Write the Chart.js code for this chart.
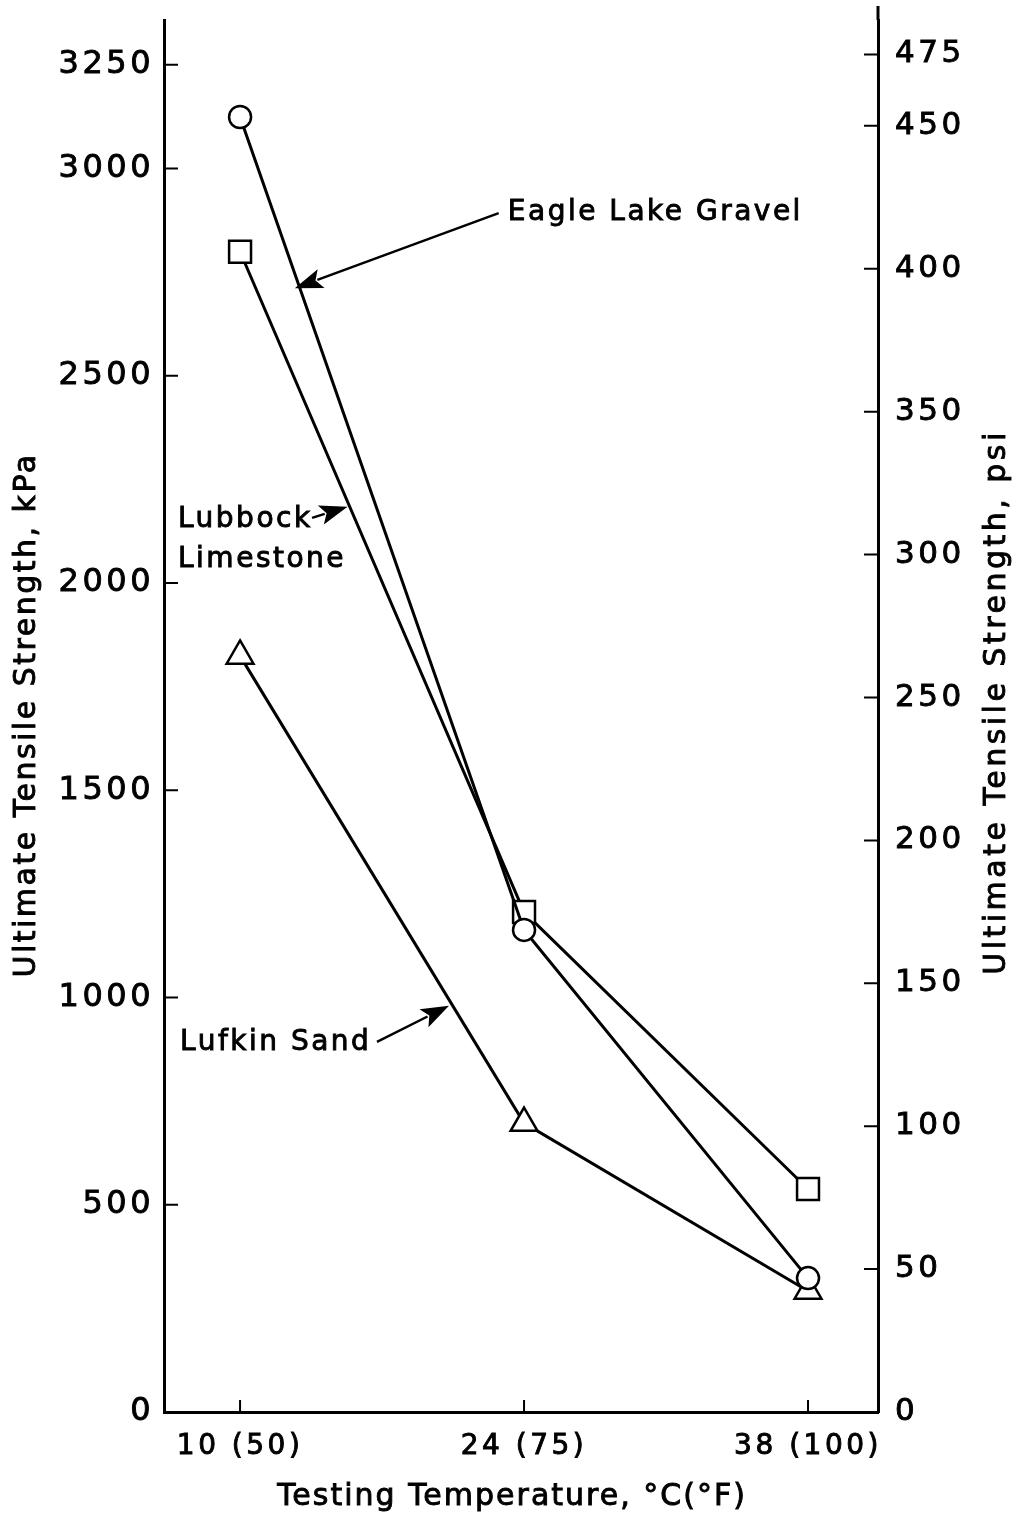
<!DOCTYPE html>
<html><head><meta charset="utf-8">
<script src="https://cdn.jsdelivr.net/npm/chart.js@4/dist/chart.umd.min.js"></script>
<style>html,body{margin:0;padding:0;background:#fff}#wrap{width:1013px;height:1518px;position:relative}</style>
</head><body><div id="wrap"><canvas id="c"></canvas></div>
<script>
// ---- data ----
const temperaturesC = [10, 24, 38];
const temperatureLabels = ['10 (50)', '24 (75)', '38 (100)'];
const eagleLakeGravel = [3124, 1163, 323];   // kPa, circles
const lubbockLimestone = [2799, 1206, 538];  // kPa, squares
const lufkinSand = [1824, 697, 292];         // kPa, triangles
const kpaTicks = [0, 500, 1000, 1500, 2000, 2500, 3000, 3250];
const psiTicks = [0, 50, 100, 150, 200, 250, 300, 350, 400, 450, 475];
const KPA_PER_PSI = 6.894757;
const kpaMax = 3358;
const tempMin = 6.25, tempMax = 41.45;
const xTitle = 'Testing Temperature, \u00B0C(\u00B0F)';
const yTitle = 'Ultimate Tensile Strength, kPa';
const y2Title = 'Ultimate Tensile Strength, psi';
// annotation labels (data units: temperature, kPa)
const labelTexts = [['Eagle Lake Gravel'], ['Lubbock', 'Limestone'], ['Lufkin Sand']];
const labelAt = [[23.2, 2892], [6.94, 2152], [7.04, 890]];
const arrowFrom = [[22.75, 2892], [13.55, 2157], [16.75, 893]];
const arrowTo = [[12.7, 2711], [15.3, 2184], [20.3, 980]];

const FONT = "'DejaVu Sans', sans-serif";
const toXY = arr => temperaturesC.map((t, i) => ({x: t, y: arr[i]}));

function drawText(ctx, text, x, y, size, spacing, align, rot) {
  ctx.save();
  ctx.font = size + 'px ' + FONT;
  ctx.letterSpacing = spacing + 'px';
  ctx.textAlign = align;
  ctx.textBaseline = 'middle';
  ctx.fillStyle = '#000';
  ctx.strokeStyle = '#000';
  ctx.lineWidth = 0.9;
  ctx.translate(x, y);
  if (rot) ctx.rotate(rot);
  ctx.fillText(text, 0, 0);
  ctx.strokeText(text, 0, 0);
  ctx.restore();
}

const spacingPlugin = {
  id: 'spacing',
  beforeDraw(chart) {
    const ctx = chart.ctx;
    ctx.save();
    ctx.fillStyle = '#fff';
    ctx.fillRect(0, 0, chart.width, chart.height);
    ctx.restore();
    ctx.letterSpacing = '3.5px';
  }
};

const decorPlugin = {
  id: 'decor',
  afterDraw(chart) {
    const ctx = chart.ctx;
    const {x, y, y2} = chart.scales;
    const area = chart.chartArea;
    ctx.save();
    ctx.strokeStyle = '#000';
    ctx.fillStyle = '#000';
    ctx.lineWidth = 2;
    // inward tick marks
    ctx.beginPath();
    kpaTicks.forEach(v => { const p = y.getPixelForValue(v); ctx.moveTo(area.left, p); ctx.lineTo(area.left + 14, p); });
    psiTicks.forEach(v => { const p = y2.getPixelForValue(v); ctx.moveTo(area.right, p); ctx.lineTo(area.right - 14, p); });
    temperaturesC.forEach(v => { const p = x.getPixelForValue(v); ctx.moveTo(p, area.bottom); ctx.lineTo(p, area.bottom - 12); });
    ctx.stroke();
    // right axis extends a bit higher
    ctx.lineWidth = 3;
    ctx.beginPath();
    ctx.moveTo(area.right, area.top);
    ctx.lineTo(area.right, area.top - 14);
    ctx.stroke();
    // axis titles
    const midY = (area.top + area.bottom) / 2;
    drawText(ctx, xTitle, (area.left + area.right) / 2 - 9, 1497, 30, 2, 'center', 0);
    drawText(ctx, yTitle, 27, midY - 1, 30, 2.5, 'center', -Math.PI / 2);
    drawText(ctx, y2Title, 997, midY - 14, 30, 3.5, 'center', -Math.PI / 2);
    // annotations
    labelTexts.forEach((lines, i) => {
      const px = x.getPixelForValue(labelAt[i][0]);
      const py = y.getPixelForValue(labelAt[i][1]);
      lines.forEach((t, j) => drawText(ctx, t, px, py + j * 40, 28, 2.5, 'left', 0));
      const ax = x.getPixelForValue(arrowFrom[i][0]);
      const ay = y.getPixelForValue(arrowFrom[i][1]);
      const bx = x.getPixelForValue(arrowTo[i][0]);
      const by = y.getPixelForValue(arrowTo[i][1]);
      const ang = Math.atan2(by - ay, bx - ax);
      const L = 28, W = 10;
      ctx.lineWidth = 2.5;
      ctx.beginPath();
      ctx.moveTo(ax, ay);
      ctx.lineTo(bx - Math.cos(ang) * (L - 4), by - Math.sin(ang) * (L - 4));
      ctx.stroke();
      ctx.beginPath();
      ctx.moveTo(bx, by);
      ctx.lineTo(bx - Math.cos(ang) * L - Math.sin(ang) * W, by - Math.sin(ang) * L + Math.cos(ang) * W);
      ctx.lineTo(bx - Math.cos(ang) * (L - 6), by - Math.sin(ang) * (L - 6));
      ctx.lineTo(bx - Math.cos(ang) * L + Math.sin(ang) * W, by - Math.sin(ang) * L - Math.cos(ang) * W);
      ctx.closePath();
      ctx.fill();
    });
    ctx.restore();
  }
};

const common = {
  borderColor: '#000', borderWidth: 3,
  pointBackgroundColor: '#fff', pointBorderColor: '#000', pointBorderWidth: 2.5,
  tension: 0, fill: false
};
const zeroPad = s => { s.paddingTop = 0; s.paddingBottom = 0; s.paddingLeft = 0; s.paddingRight = 0; };

new Chart(document.getElementById('c'), {
  type: 'line',
  data: {
    datasets: [
      Object.assign({label: 'Eagle Lake Gravel', data: toXY(eagleLakeGravel), pointStyle: 'circle', pointRadius: 11}, common),
      Object.assign({label: 'Lubbock Limestone', data: toXY(lubbockLimestone), pointStyle: 'rect', pointRadius: 15.5}, common),
      Object.assign({label: 'Lufkin Sand', data: toXY(lufkinSand), pointStyle: 'triangle', pointRadius: 15.5}, common)
    ]
  },
  options: {
    responsive: true, maintainAspectRatio: false, animation: false, events: [],
    layout: {padding: {top: 20, left: 0, right: 0, bottom: 0}},
    plugins: {legend: {display: false}, tooltip: {enabled: false}},
    scales: {
      x: {
        type: 'linear', position: 'bottom', min: tempMin, max: tempMax,
        afterFit: s => { s.height = 106; zeroPad(s); },
        afterBuildTicks: s => { s.ticks = temperaturesC.map(v => ({value: v})); },
        grid: {display: false, drawTicks: false},
        border: {display: true, color: '#000', width: 3},
        ticks: {color: '#000', padding: 18, font: {family: FONT, size: 28}, textStrokeColor: '#000', textStrokeWidth: 0.9,
          callback: v => temperatureLabels[temperaturesC.indexOf(v)] ?? ''}
      },
      y: {
        type: 'linear', position: 'left', min: 0, max: kpaMax,
        afterFit: s => { s.width = 164; zeroPad(s); },
        afterBuildTicks: s => { s.ticks = kpaTicks.map(v => ({value: v})); },
        grid: {display: false, drawTicks: false},
        border: {display: true, color: '#000', width: 3},
        ticks: {color: '#000', padding: 10, font: {family: FONT, size: 32}, textStrokeColor: '#000', textStrokeWidth: 0.9,
          callback: v => String(v)}
      },
      y2: {
        type: 'linear', position: 'right', min: 0, max: kpaMax / KPA_PER_PSI,
        afterFit: s => { s.width = 135; zeroPad(s); },
        afterBuildTicks: s => { s.ticks = psiTicks.map(v => ({value: v})); },
        grid: {display: false, drawTicks: false},
        border: {display: true, color: '#000', width: 3},
        ticks: {color: '#000', padding: 17, font: {family: FONT, size: 31}, textStrokeColor: '#000', textStrokeWidth: 0.9,
          callback: v => String(v)}
      }
    }
  },
  plugins: [spacingPlugin, decorPlugin]
});
</script>
</body></html>
